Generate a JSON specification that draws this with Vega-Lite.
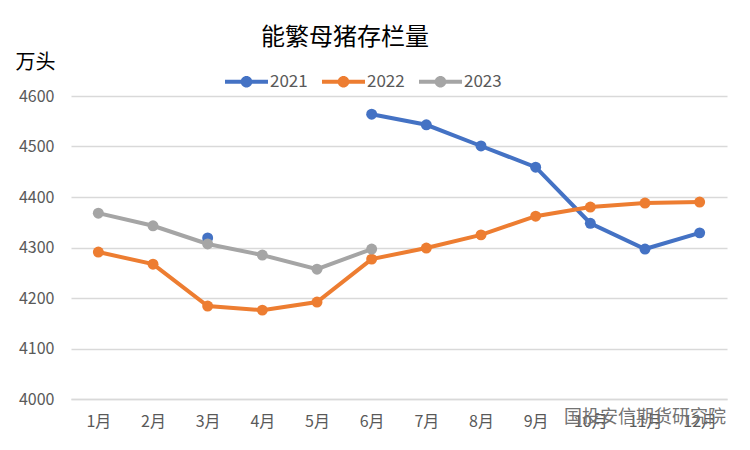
{
  "$schema": "https://vega.github.io/schema/vega-lite/v6.json",
  "autosize": "none",
  "width": 656,
  "height": 303,
  "padding": {"left": 71, "top": 96, "right": 23, "bottom": 51},
  "background": "white",
  "config": {
    "font": "Noto Sans CJK SC",
    "view": {"stroke": null},
    "axis": {"labelFont": "Noto Sans CJK SC", "titleFont": "Noto Sans CJK SC"}
  },
  "title": {
    "text": "能繁母猪存栏量",
    "fontSize": 24,
    "fontWeight": "normal",
    "color": "#000000",
    "anchor": "middle",
    "frame": "group",
    "dx": -54,
    "offset": 2
  },
  "layer": [
    {
      "data": {
        "values": [
          {"month": "1月", "year": "2021", "value": null},
          {"month": "2月", "year": "2021", "value": null},
          {"month": "3月", "year": "2021", "value": 4319},
          {"month": "4月", "year": "2021", "value": null},
          {"month": "5月", "year": "2021", "value": null},
          {"month": "6月", "year": "2021", "value": 4564},
          {"month": "7月", "year": "2021", "value": 4543},
          {"month": "8月", "year": "2021", "value": 4501},
          {"month": "9月", "year": "2021", "value": 4459},
          {"month": "10月", "year": "2021", "value": 4348},
          {"month": "11月", "year": "2021", "value": 4297},
          {"month": "12月", "year": "2021", "value": 4329},
          {"month": "1月", "year": "2022", "value": 4291},
          {"month": "2月", "year": "2022", "value": 4267},
          {"month": "3月", "year": "2022", "value": 4184},
          {"month": "4月", "year": "2022", "value": 4176},
          {"month": "5月", "year": "2022", "value": 4192},
          {"month": "6月", "year": "2022", "value": 4277},
          {"month": "7月", "year": "2022", "value": 4299},
          {"month": "8月", "year": "2022", "value": 4325},
          {"month": "9月", "year": "2022", "value": 4362},
          {"month": "10月", "year": "2022", "value": 4380},
          {"month": "11月", "year": "2022", "value": 4388},
          {"month": "12月", "year": "2022", "value": 4390},
          {"month": "1月", "year": "2023", "value": 4368},
          {"month": "2月", "year": "2023", "value": 4343},
          {"month": "3月", "year": "2023", "value": 4307},
          {"month": "4月", "year": "2023", "value": 4285},
          {"month": "5月", "year": "2023", "value": 4257},
          {"month": "6月", "year": "2023", "value": 4297}
        ]
      },
      "encoding": {
        "x": {
          "field": "month",
          "type": "ordinal",
          "scale": {"type": "point", "padding": 0.5, "domain": ["1月","2月","3月","4月","5月","6月","7月","8月","9月","10月","11月","12月"]},
          "axis": {
            "title": null,
            "labelAngle": 0,
            "labelFontSize": 16,
            "labelColor": "#595959",
            "labelPadding": 14,
            "ticks": false,
            "grid": false,
            "domainColor": "#D9D9D9",
            "domainWidth": 1.5
          }
        },
        "y": {
          "field": "value",
          "type": "quantitative",
          "scale": {"domain": [4000, 4600], "nice": false, "zero": false},
          "axis": {
            "title": "万头",
            "titleAngle": 0,
            "titleX": -56,
            "titleY": -34,
            "titleAlign": "left",
            "titleBaseline": "middle",
            "titleFontSize": 20,
            "titleFontWeight": "normal",
            "titleColor": "#000000",
            "values": [4000, 4100, 4200, 4300, 4400, 4500, 4600],
            "format": "d",
            "labelFontSize": 16,
            "labelColor": "#595959",
            "labelPadding": 17,
            "ticks": false,
            "domain": false,
            "gridColor": "#D9D9D9",
            "gridWidth": 1.5
          }
        },
        "color": {
          "field": "year",
          "type": "nominal",
          "scale": {"domain": ["2021", "2022", "2023"], "range": ["#4472C4", "#ED7D31", "#A5A5A5"]},
          "legend": {
            "title": null,
            "orient": "none",
            "direction": "horizontal",
            "legendX": 154,
            "legendY": -36,
            "symbolType": "M-1,-0.09H1V0.09H-1Z M0.27,0A0.27,0.27 0 1 1 -0.27,0A0.27,0.27 0 1 1 0.27,0Z",
            "symbolSize": 1849,
            "symbolStrokeWidth": 0,
            "symbolOpacity": 1,
            "labelFontSize": 17,
            "labelColor": "#595959",
            "labelOffset": 2,
            "columnPadding": 14
          }
        }
      },
      "layer": [
        {"mark": {"type": "line", "strokeWidth": 4, "invalid": "break-paths-show-domains"}},
        {"mark": {"type": "point", "filled": true, "size": 120, "opacity": 1, "invalid": "break-paths-show-domains"}}
      ]
    },
    {
      "data": {"values": [{"month": "11月", "value": 4000, "t": "国投安信期货研究院"}]},
      "mark": {"type": "text", "fontSize": 18, "fill": "#737373", "dy": 19, "baseline": "middle", "align": "center"},
      "encoding": {
        "x": {"field": "month", "type": "ordinal"},
        "y": {"field": "value", "type": "quantitative"},
        "text": {"field": "t"}
      }
    }
  ]
}
